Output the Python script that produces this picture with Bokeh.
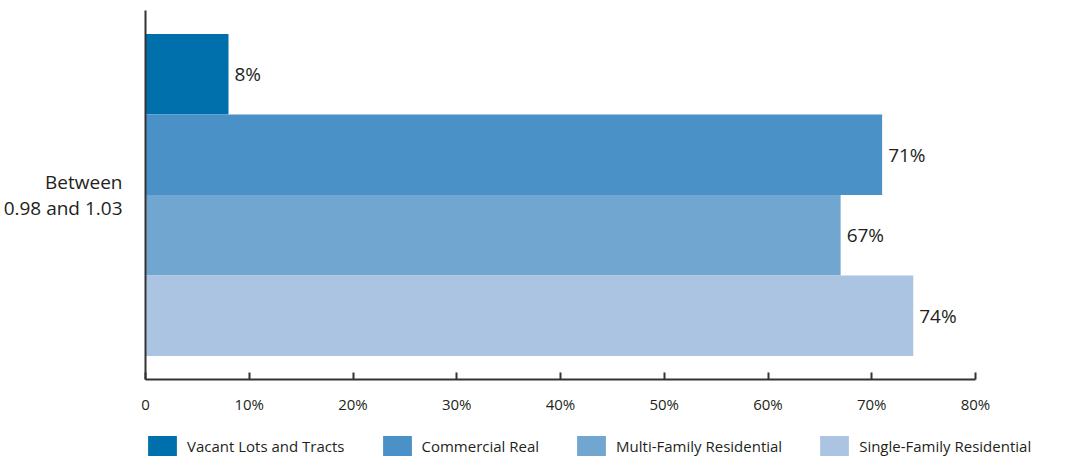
from bokeh.plotting import figure
from bokeh.layouts import column
from bokeh.models import (FactorRange, Range1d, FixedTicker, Legend, LegendItem,
                          ColumnDataSource)
from bokeh.transform import dodge
from bokeh.core.properties import value
from bokeh.embed import file_html
from bokeh.resources import INLINE

# ---- data ----
category = "Between\n0.98 and 1.03"
series = ["Vacant Lots and Tracts", "Commercial Real",
          "Multi-Family Residential", "Single-Family Residential"]
values = [8, 71, 67, 74]
colors = ["#0070AD", "#4A91C7", "#71A6D1", "#AAC4E2"]
x_ticks = [0, 10, 20, 30, 40, 50, 60, 70, 80]
x_tick_labels = ["0", "10%", "20%", "30%", "40%", "50%", "60%", "70%", "80%"]

FONT = "Open Sans"
TXT = "#231F20"
AX = "#333333"

p = figure(y_range=FactorRange(factors=[category], range_padding=0),
           x_range=Range1d(0, 80),
           width=1067, height=425,
           min_border_left=145, min_border_right=92, min_border_top=10,
           min_border_bottom=46, frame_align=False,
           output_backend="svg", toolbar_location=None)

bar_h = 0.218
offsets = [0.327, 0.109, -0.109, -0.327]
sources = []
for name, v, c, off in zip(series, values, colors, offsets):
    src = ColumnDataSource(dict(cat=[category], val=[v], lab=[f"{v}%"]))
    sources.append(src)
    p.hbar(y=dodge("cat", off, range=p.y_range), left=0, right="val",
           height=bar_h, source=src, fill_color=c, line_color=None)
    p.text(x="val", y=dodge("cat", off, range=p.y_range), text="lab",
           source=src, x_offset=6, text_baseline="middle", text_align="left",
           text_font=value(FONT), text_font_size="19px", text_color=TXT)

p.grid.visible = False
p.outline_line_color = None

xa = p.xaxis[0]
xa.ticker = FixedTicker(ticks=x_ticks)
xa.major_label_overrides = {t: l for t, l in zip(x_ticks, x_tick_labels)}
xa.major_tick_in = 7
xa.major_tick_out = 0
xa.minor_tick_line_color = None
xa.axis_line_width = 2
xa.major_tick_line_width = 2
xa.axis_line_color = AX
xa.major_tick_line_color = AX
xa.major_label_text_font = FONT
xa.major_label_text_font_size = "15px"
xa.major_label_text_color = TXT
xa.major_label_standoff = 14

ya = p.yaxis[0]
ya.major_tick_line_color = None
ya.minor_tick_line_color = None
ya.axis_line_width = 2
ya.axis_line_color = AX
ya.major_label_text_font = FONT
ya.major_label_text_font_size = "19px"
ya.major_label_text_line_height = 1.0
ya.major_label_text_color = TXT
ya.major_label_standoff = 17

# ---- legend strip (its bars lie outside its view; only the legend shows) ----
lg = figure(width=1067, height=33, y_range=FactorRange(factors=["legend"]),
            x_range=Range1d(-200, -100), min_border=0, frame_align=False,
            x_axis_location=None, y_axis_location=None,
            output_backend="svg", toolbar_location=None)
lg.grid.visible = False
lg.outline_line_color = None
items = []
for name, c, src in zip(series, colors, sources):
    r = lg.hbar(y=value("legend"), left=0, right="val", height=1,
                source=src, fill_color=c, line_color=None)
    items.append(LegendItem(label=name, renderers=[r]))
legend = Legend(items=items, orientation="horizontal", location=(144, 0),
                glyph_width=36, glyph_height=25, label_height=25,
                label_standoff=7, spacing=34, padding=0, margin=0,
                label_text_font=FONT, label_text_font_size="15px",
                label_text_color=TXT, border_line_color=None,
                background_fill_alpha=0)
lg.add_layout(legend, "center")

layout = column(p, lg, spacing=0)
open("out.html", "w").write(file_html(layout, INLINE))
